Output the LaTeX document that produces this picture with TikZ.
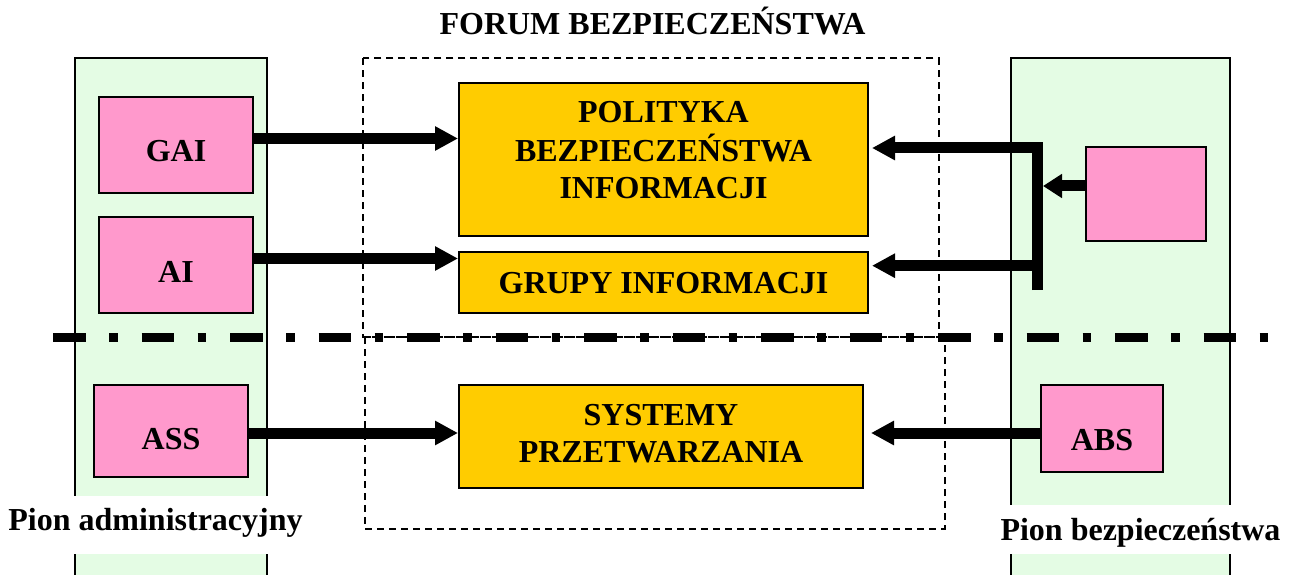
\documentclass[tikz,border=0pt]{standalone}
\usepackage{fontspec}
\setmainfont{Liberation Serif}
\usetikzlibrary{arrows.meta}
\definecolor{pinkfill}{RGB}{255,153,204}
\definecolor{yellowfill}{RGB}{255,204,0}
\definecolor{colgreen}{RGB}{228,252,228}
\begin{document}
\begin{tikzpicture}[x=1pt,y=-1pt,
  txt/.style={font=\fontsize{32}{37}\selectfont\bfseries, inner sep=0pt},
  pbox/.style={draw, line width=2pt, fill=pinkfill, inner sep=0pt, txt},
  ybox/.style={draw, line width=2pt, fill=yellowfill, inner sep=0pt, txt},
  colborder/.style={line width=2pt},
  forumbox/.style={line width=2pt, dash pattern=on 7pt off 5pt},
  separator/.style={line width=8.5pt, dash pattern=on 32.5pt off 23.5pt on 8.5pt off 24pt},
  bigarr/.style={line width=11pt, -{Triangle[length=23pt,width=23pt]}},
  smallarr/.style={line width=11pt, -{Triangle[length=19pt,width=23pt]}},
  collabel/.style={txt, fill=white, anchor=base, inner xsep=1pt, inner ysep=0pt}
]
\useasboundingbox (0,0) rectangle (1294,575);
% columns
\fill[colgreen] (74.7,58.3) rectangle (267,576);
\draw[colborder] (74.7,577) -- (74.7,58.3) -- (267,58.3) -- (267,577);
\fill[colgreen] (1011.3,58.3) rectangle (1229.5,576);
\draw[colborder] (1011.3,577) -- (1011.3,58.3) -- (1229.5,58.3) -- (1229.5,577);
% forum areas
\draw[forumbox] (362.7,58.3) rectangle (939,337.3);
\draw[forumbox] (365,337.3) rectangle (944.5,529);
% separator
\draw[separator] (53,337.5) -- (1268,337.5);
% column labels
\node[collabel, text height=34pt, text depth=24pt] (lblA) at (155.5,530) {Pion administracyjny};
\node[collabel, text height=35pt, text depth=14pt] (lblB) at (1140.5,540) {Pion bezpiecze\'nstwa};
% title
\node[txt, anchor=base] (title) at (652.5,35) {FORUM BEZPIECZEŃSTWA};
% pink boxes
\node[pbox, minimum width=154pt, minimum height=96pt, text height=34pt, text depth=0pt] (gai) at (176,145) {GAI};
\node[pbox, minimum width=154pt, minimum height=96pt, text height=34pt, text depth=0pt] (ai) at (176,265) {AI};
\node[pbox, minimum width=154pt, minimum height=92pt, text height=36pt, text depth=0pt] (ass) at (171,431) {ASS};
\node[pbox, minimum width=120pt, minimum height=94pt] (pk) at (1146,194) {};
\node[pbox, minimum width=122pt, minimum height=87pt, text height=43pt, text depth=0pt] (abs) at (1102,428.5) {ABS};
% yellow boxes
\node[ybox, minimum width=409pt, minimum height=153pt, text height=0pt, text depth=73pt] (pol) at (663.5,159.5)
  {\begin{tabular}[t]{@{}c@{}}POLITYKA\\BEZPIECZEŃSTWA\\INFORMACJI\end{tabular}};
\node[ybox, minimum width=409pt, minimum height=61pt, text height=21pt, text depth=0pt] (gr) at (663.5,282.5) {GRUPY INFORMACJI};
\node[ybox, minimum width=404pt, minimum height=103pt, text height=0pt, text depth=23pt] (sys) at (661,436.5)
  {\begin{tabular}[t]{@{}c@{}}SYSTEMY\\PRZETWARZANIA\end{tabular}};
% arrow levels
\coordinate (y1) at (0,138.5);
\coordinate (y2) at (0,258.5);
\coordinate (y3) at (0,433);
\coordinate (y4) at (0,265.7);
\coordinate (y5) at (0,186);
\coordinate (bartop) at (1037.5,148);
\coordinate (barbot) at (1037.5,290);
% arrows
\draw[bigarr] (gai.east |- y1) -- (pol.west |- y1);
\draw[bigarr] (ai.east |- y2) -- (gr.west |- y2);
\draw[bigarr] (ass.east |- y3) -- (sys.west |- y3);
\draw[bigarr, shorten >=7pt] (abs.west |- y3) -- (sys.east |- y3);
\draw[bigarr, shorten >=3pt, line join=miter] (barbot) -- (bartop) -- (pol.east |- bartop);
\draw[bigarr, shorten >=3pt] (barbot |- y4) -- (gr.east |- y4);
\draw[smallarr] (pk.west |- y5) -- ([xshift=5.5pt]barbot |- y5);
\end{tikzpicture}
\end{document}
